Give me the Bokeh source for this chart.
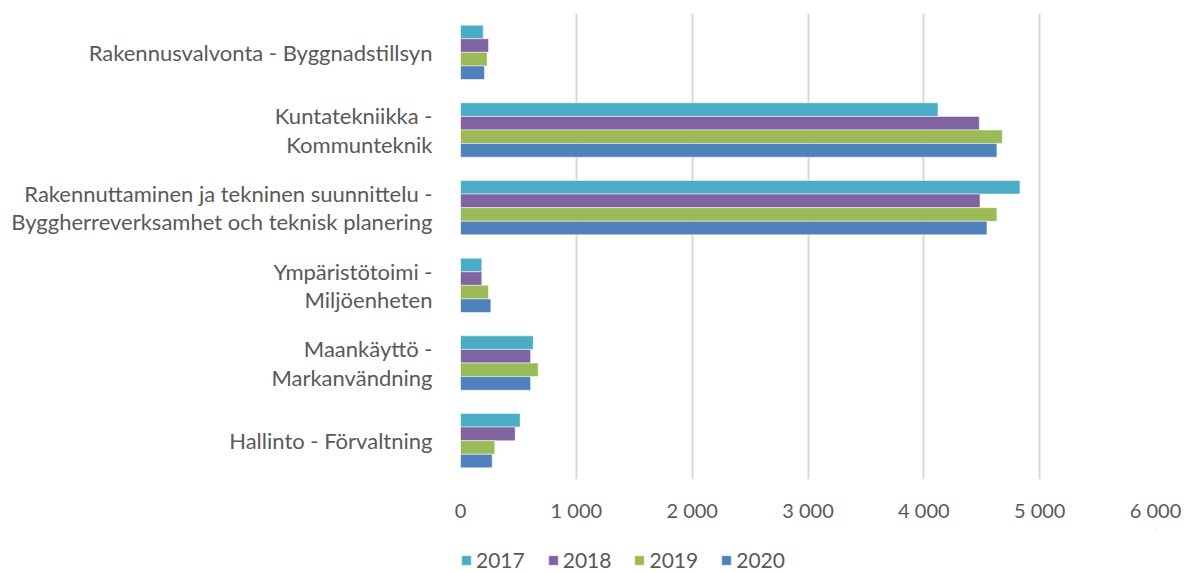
from bokeh.plotting import figure
from bokeh.layouts import column
from bokeh.models import ColumnDataSource, FactorRange, Range1d, Legend, LegendItem, CustomJSTickFormatter
from bokeh.transform import dodge
from bokeh.embed import file_html
from bokeh.resources import INLINE

categories = [
    "Rakennusvalvonta - Byggnadstillsyn",
    "Kuntatekniikka -\nKommunteknik",
    "Rakennuttaminen ja tekninen suunnittelu -\nByggherreverksamhet och teknisk planering",
    "Ympäristötoimi -\nMiljöenheten",
    "Maankäyttö -\nMarkanvändning",
    "Hallinto - Förvaltning",
]
years = ["2017", "2018", "2019", "2020"]
v2017 = [196, 4122, 4830, 184, 628, 515]
v2018 = [242, 4479, 4485, 184, 605, 472]
v2019 = [230, 4678, 4631, 242, 671, 296]
v2020 = [207, 4631, 4545, 262, 605, 274]
colors = ["#4BACC6", "#8064A2", "#9BBB59", "#4F81BD"]
x_ticks = [0, 1000, 2000, 3000, 4000, 5000, 6000]

source = ColumnDataSource(dict(cat=categories, y2017=v2017, y2018=v2018, y2019=v2019, y2020=v2020))

FONT = "Lato"
TXT = "#595959"
p = figure(
    width=1191, height=529,
    y_range=FactorRange(factors=list(reversed(categories))),
    x_range=Range1d(0, 6000),
    output_backend="svg", toolbar_location=None,
    min_border_left=460, min_border_right=36, min_border_top=13, min_border_bottom=50,
)
p.outline_line_color = None

bar_h = 0.175
offsets = [0.2625, 0.0875, -0.0875, -0.2625]
for yr, col, off in zip(years, colors, offsets):
    p.hbar(y=dodge("cat", off, range=p.y_range), right="y" + yr, left=0, height=bar_h,
           source=source, fill_color=col, line_color="white", line_alpha=0.5, line_width=1)

p.xaxis.ticker = x_ticks
p.xaxis.formatter = CustomJSTickFormatter(code="return Math.round(tick).toString().replace(/\\B(?=(\\d{3})+(?!\\d))/g, ' ');")
p.xaxis.axis_line_color = None
p.xaxis.major_tick_line_color = None
p.xaxis.major_tick_out = 0
p.xaxis.major_tick_in = 0
p.xaxis.minor_tick_line_color = None
p.xaxis.major_label_text_font = FONT
p.xaxis.major_label_text_font_size = "20px"
p.xaxis.major_label_text_color = TXT
p.xaxis.major_label_standoff = 18

p.yaxis.axis_line_color = None
p.yaxis.major_tick_line_color = None
p.yaxis.major_tick_out = 0
p.yaxis.major_tick_in = 0
p.yaxis.minor_tick_line_color = None
p.yaxis.major_label_text_font = FONT
p.yaxis.major_label_text_font_size = "22px"
p.yaxis.major_label_text_color = TXT
p.yaxis.major_label_text_line_height = 1.05
p.yaxis.major_label_standoff = 28

p.xgrid.grid_line_color = "#D9D9D9"
p.xgrid.grid_line_width = 2
p.ygrid.grid_line_color = None

# legend strip below the chart; its swatch renderers have zero width and lie outside its range
lg = figure(width=1191, height=43, output_backend="svg", toolbar_location=None,
            x_axis_type=None, y_axis_type=None,
            x_range=Range1d(0, 1), y_range=Range1d(-2, -1),
            min_border_left=0, min_border_right=0, min_border_top=0, min_border_bottom=0)
lg.outline_line_color = None
lg.border_fill_color = "white"
items = []
for yr, col in zip(years, colors):
    r = lg.hbar(y="y" + yr, right="y" + yr, left="y" + yr, height=0, source=source,
                fill_color=col, line_color="white", line_alpha=0.5, line_width=1)
    items.append(LegendItem(label=yr, renderers=[r]))
legend = Legend(
    items=items, orientation="horizontal", location=(0, 0),
    border_line_color=None, background_fill_alpha=0,
    label_text_font=FONT, label_text_font_size="21px", label_text_color=TXT,
    glyph_width=12, glyph_height=12, label_standoff=4, spacing=22,
    margin=0, padding=0,
)
lg.add_layout(legend, "center")

layout = column(p, lg, spacing=0)
open("out.html", "w").write(file_html(layout, INLINE))
